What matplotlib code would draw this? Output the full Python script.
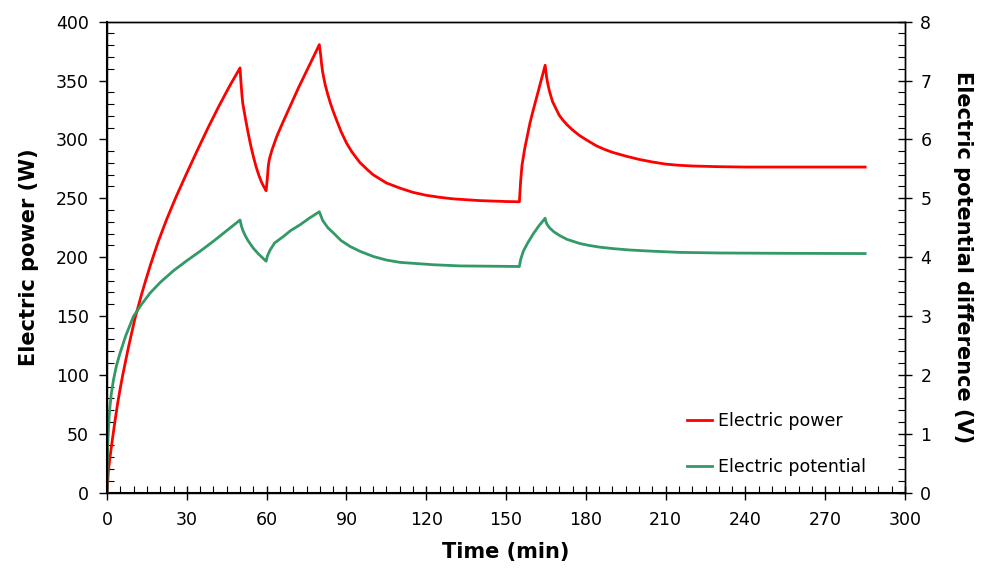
import numpy as np
import matplotlib
matplotlib.use('Agg')
import matplotlib.pyplot as plt
from matplotlib.ticker import MultipleLocator

# electric power (W)
t_power = [0, 0.5, 1, 2, 3, 4, 5, 6, 8, 10.5, 13, 14.5, 16.2, 17.8, 19.3, 22.4, 26, 30, 34, 38, 42, 46, 50,
           50.3, 50.7, 51, 52, 53, 54, 55, 56, 57, 58, 59, 59.8,
           60.3, 60.6, 61, 62, 63.8, 66, 68, 70, 72, 75, 78, 79.8,
           80.3, 80.6, 81, 81.5, 82, 83, 84, 85, 86, 88, 90, 92, 95, 98, 100, 105, 110, 115, 120, 125, 130,
           140, 150, 155,
           155.5, 156, 157, 158, 159, 160, 162, 164.7,
           165.3, 165.9, 166.5, 167.5, 169, 170, 171.5, 173, 175, 177.8, 181, 184, 187, 190, 195, 200, 205,
           210, 215, 220, 230, 240, 260, 285]
power = [0, 18, 28, 45, 61, 76, 89, 101, 123, 148, 168.5, 180, 192.5, 203.5, 213.5, 232, 251.5, 271.5, 291, 310, 328, 345, 360.7,
         350, 338, 331, 318, 306, 295, 285.5, 277, 270, 264, 259.5, 256.4,
         268, 277, 283, 291, 302.5, 314, 324, 334, 344, 358, 372, 380.5,
         372, 365, 358, 352, 346.5, 338, 330.5, 324, 318, 306.5, 297, 289.5, 280.5, 274, 270, 263, 258.7, 255, 252.5, 250.8, 249.5,
         248, 247.2, 247,
         265, 278, 292, 303, 314, 323, 340, 363,
         352, 345, 339.5, 332, 325, 320.5, 316, 312.3, 308, 303, 298.5, 294.5, 291.5, 289, 285.8, 283, 280.8,
         279, 278, 277.4, 276.8, 276.5, 276.5, 276.5]

# electric potential difference (V)
t_pot = [0, 0.1, 0.3, 0.5, 0.8, 1.1, 1.6, 2.4, 3.5, 4.9, 7, 9.9, 13, 16.2, 20, 25, 30, 35, 40, 45, 50,
         50.5, 51, 52, 53, 55, 57, 59.8,
         60.3, 61.3, 63, 66.3, 69, 72.6, 76, 79.8,
         80.4, 81.1, 83, 85.1, 88, 91.4, 95, 100.1, 105, 110.2, 122.7, 132.7, 145, 155,
         155.5, 156.5, 158, 160.3, 162.5, 164.7,
         165, 165.5, 166.5, 168, 170, 173, 177.8, 181, 185, 190, 196.6, 205, 215.4, 230, 250, 285]
potential = [0, 0.5, 0.85, 1.05, 1.3, 1.46, 1.68, 1.91, 2.15, 2.37, 2.66, 2.99, 3.2, 3.39, 3.57, 3.77, 3.94, 4.1, 4.27, 4.45, 4.63,
             4.53, 4.46, 4.36, 4.28, 4.15, 4.05, 3.93,
             4.02, 4.12, 4.24, 4.35, 4.45, 4.55, 4.66, 4.77,
             4.7, 4.62, 4.5, 4.41, 4.28, 4.18, 4.1, 4.01, 3.95, 3.91, 3.87, 3.85, 3.845, 3.84,
             3.96, 4.1, 4.23, 4.4, 4.54, 4.66,
             4.6, 4.55, 4.49, 4.43, 4.37, 4.3, 4.23, 4.2, 4.17, 4.145, 4.12, 4.1, 4.08, 4.07, 4.065, 4.06]

plt.rcParams['font.family'] = ['DejaVu Sans']

fig = plt.figure(figsize=(9.83, 5.81), dpi=100)
ax = fig.add_axes([0.1089, 0.1523, 0.8118, 0.8104])
ax2 = ax.twinx()

l1, = ax.plot(t_power, power, color='#ff0000', lw=2, label='Electric power')
l2, = ax2.plot(t_pot, potential, color='#339966', lw=2, label='Electric potential')

ax.set_xlim(0, 300)
ax.set_ylim(0, 400)
ax2.set_ylim(0, 8)

ax.xaxis.set_major_locator(MultipleLocator(30))
ax.xaxis.set_minor_locator(MultipleLocator(5))
ax.yaxis.set_major_locator(MultipleLocator(50))
ax.yaxis.set_minor_locator(MultipleLocator(10))
ax2.yaxis.set_major_locator(MultipleLocator(1))
ax2.yaxis.set_minor_locator(MultipleLocator(0.2))

ax.tick_params(axis='x', which='major', direction='inout', length=10, width=1, labelsize=12.5, pad=8)
ax.tick_params(axis='x', which='minor', direction='in', length=5, width=0.8)
ax.tick_params(axis='y', which='major', direction='out', length=6, width=1, labelsize=12.5, pad=7)
ax.tick_params(axis='y', which='minor', direction='in', length=5, width=0.8)
ax2.tick_params(axis='y', which='major', direction='inout', length=10, width=1, labelsize=12.5, pad=6)
ax2.tick_params(axis='y', which='minor', direction='in', length=5, width=0.8)

for a in (ax, ax2):
    for s in a.spines.values():
        s.set_linewidth(1)
ax.spines['left'].set_linewidth(1.5)
ax.spines['bottom'].set_linewidth(1.5)

ax.set_xlabel('Time (min)', fontsize=15, fontweight='bold', labelpad=10)
ax.set_ylabel('Electric power (W)', fontsize=15, fontweight='bold', labelpad=12)
ax2.set_ylabel('Electric potential difference (V)', fontsize=15, fontweight='bold',
               rotation=270, labelpad=30)

ax.legend(handles=[l1, l2], loc='lower left', bbox_to_anchor=(0.727, 0.035),
          frameon=False, fontsize=12.5, handlelength=1.45, handletextpad=0.35,
          labelspacing=1.6, borderpad=0, borderaxespad=0)

plt.savefig('out.png', dpi=100)
